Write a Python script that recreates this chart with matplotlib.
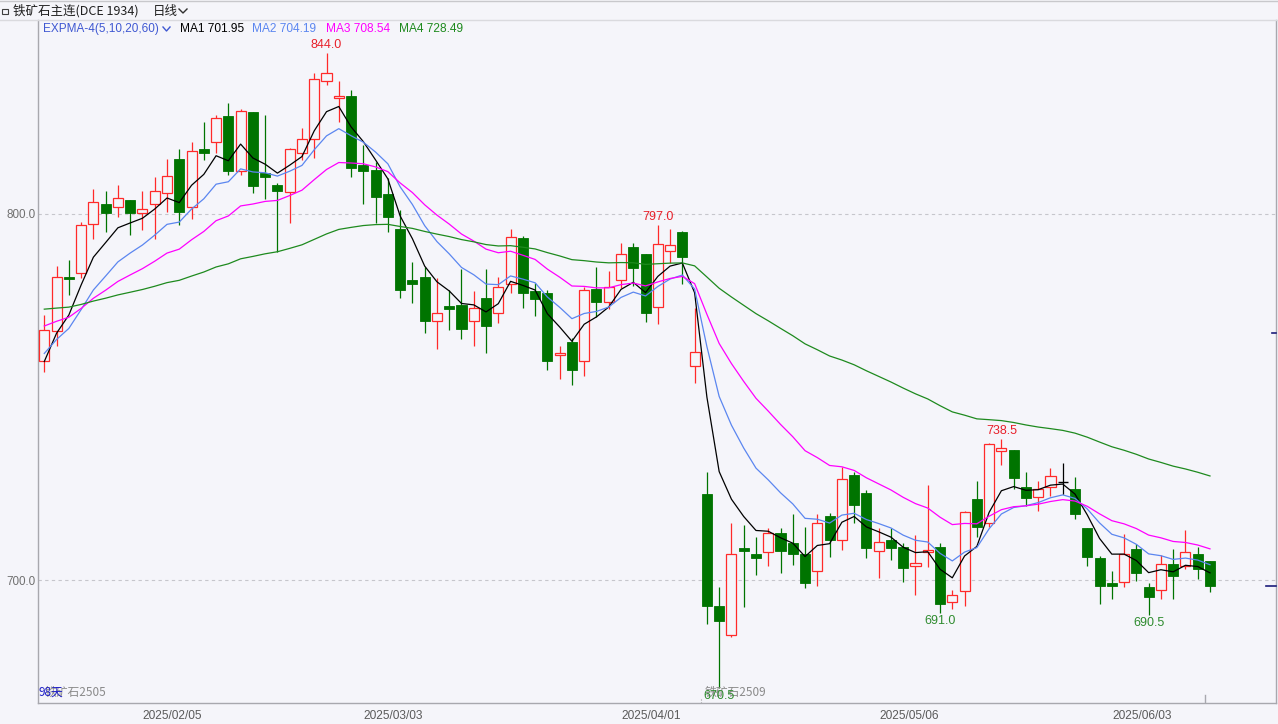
import matplotlib
matplotlib.use("Agg")
import matplotlib.pyplot as plt
from matplotlib.patches import Rectangle
from matplotlib.lines import Line2D
import numpy as np

# ---------------- data ----------------
opens = [759.7, 767.9, 782.9, 783.8, 797.4, 802.7, 801.8, 803.8, 800.2, 802.6,
         805.8, 814.9, 801.8, 817.8, 819.8, 826.9, 811.8, 827.8, 811.1, 807.9,
         806.1, 816.8, 820.4, 836.2, 831.7, 832.3, 813.4, 812.0, 805.5, 795.9,
         782.0, 782.9, 770.8, 774.9, 775.0, 770.8, 777.0, 772.9, 780.8, 793.4,
         779.0, 778.3, 761.4, 765.0, 759.8, 779.4, 775.9, 782.0, 790.9, 789.0,
         774.7, 789.9, 795.0, 758.6, 723.4, 693.0, 685.0, 708.8, 707.1, 707.6,
         712.9, 710.0, 707.1, 702.5, 717.5, 710.9, 728.6, 723.9, 707.9, 710.9,
         708.9, 703.9, 707.6, 708.9, 693.9, 697.0, 722.1, 715.7, 735.3, 735.5,
         725.3, 722.6, 725.3, 726.8, 725.0, 714.1, 706.1, 699.2, 699.4, 708.5,
         698.0, 697.4, 704.4, 703.9, 707.1, 705.2]
highs = [772.4, 785.8, 787.4, 797.9, 806.7, 806.4, 807.9, 803.8, 806.4, 810.0,
         814.9, 817.8, 819.8, 825.0, 827.0, 830.4, 828.7, 827.8, 827.0, 808.4,
         817.9, 823.4, 838.4, 844.0, 836.4, 833.9, 818.9, 814.3, 809.7, 801.1,
         787.0, 785.6, 782.4, 779.1, 784.9, 779.0, 784.9, 782.9, 795.8, 794.0,
         781.2, 779.1, 763.9, 766.0, 780.1, 785.4, 784.5, 792.0, 792.0, 789.0,
         797.0, 795.8, 795.4, 774.2, 729.4, 698.0, 715.7, 715.0, 711.7, 714.1,
         714.1, 718.0, 714.6, 718.0, 718.2, 731.0, 729.6, 724.6, 714.1, 714.1,
         710.0, 712.3, 726.0, 710.0, 697.3, 718.9, 727.1, 737.5, 738.5, 735.5,
         729.6, 727.0, 730.5, 732.1, 728.1, 714.1, 706.6, 702.5, 712.6, 709.8,
         699.1, 706.8, 708.5, 713.7, 709.1, 705.2]
lows = [756.9, 763.8, 777.9, 782.4, 793.2, 795.2, 799.3, 794.3, 795.6, 793.2,
        800.5, 797.0, 798.6, 814.8, 816.6, 810.7, 810.7, 805.8, 804.0, 789.5,
        797.6, 814.8, 815.2, 835.2, 825.2, 810.2, 802.6, 797.6, 795.2, 777.0,
        775.8, 767.4, 763.0, 768.3, 765.8, 763.9, 762.1, 770.3, 778.3, 774.2,
        772.1, 757.4, 754.8, 753.3, 755.7, 771.9, 774.0, 779.7, 780.3, 770.6,
        769.9, 786.5, 780.8, 753.7, 688.0, 670.5, 684.5, 692.5, 701.4, 703.9,
        701.8, 704.1, 697.7, 698.4, 706.4, 708.2, 715.7, 705.9, 700.5, 705.5,
        699.5, 695.9, 703.6, 691.0, 692.0, 693.0, 711.8, 714.6, 731.4, 725.0,
        720.2, 718.9, 723.0, 723.5, 716.7, 703.9, 693.4, 694.8, 698.2, 699.8,
        690.5, 694.8, 694.8, 703.0, 700.3, 696.8]
closes = [768.3, 782.9, 782.3, 797.0, 803.4, 800.2, 804.3, 800.2, 801.4, 806.4,
          810.4, 800.6, 817.3, 816.8, 826.1, 811.8, 828.2, 807.7, 810.2, 806.3,
          817.7, 820.4, 836.8, 838.4, 832.2, 812.7, 811.7, 804.7, 799.3, 779.2,
          780.8, 770.8, 772.9, 774.0, 768.7, 774.4, 769.4, 780.0, 793.8, 778.3,
          776.7, 759.8, 761.9, 757.4, 779.2, 775.9, 780.0, 789.0, 785.2, 772.9,
          791.8, 791.4, 788.3, 762.2, 693.0, 688.9, 707.0, 707.9, 705.9, 712.9,
          708.0, 707.1, 699.1, 715.5, 710.9, 727.5, 720.5, 708.8, 710.5, 708.8,
          703.4, 704.6, 708.2, 693.4, 695.9, 718.5, 714.4, 737.1, 736.2, 727.8,
          722.5, 725.0, 728.4, 726.8, 718.0, 706.4, 698.5, 698.5, 707.1, 701.8,
          695.4, 704.4, 701.1, 707.6, 703.0, 698.5]

ema_periods = [5, 10, 20, 60]
ema_start = [759.7, 761.9, 769.4, 774.0]      # indicator values at first bar (read)
ema_colors = ['#000000', '#5B86F0', '#FF00FF', '#1E8A1E']
legend_texts = ['MA1 701.95', 'MA2 704.19', 'MA3 708.54', 'MA4 728.49']
indicator_name = 'EXPMA-4(5,10,20,60)'

date_labels = ['2025/02/05', '2025/03/03', '2025/04/01', '2025/05/06', '2025/06/03']
date_index = [10, 28, 49, 70, 89]

high_marks = [23, 50, 78]
low_marks = [55, 73, 90]

price_ticks = [700.0, 800.0]
title = '铁矿石主连(DCE 1934)'
period_name = '日线'
contract_old = '铁矿石2505'
contract_new = '铁矿石2509'
switch_index = 54
days_text = '98天'
right_marker_price = 767.5

# ---------------- style ----------------
W, H = 1278, 724
BG = '#F5F5FA'
UP = '#FF2A2A'
DOWN = '#007400'
plt.rcParams['font.family'] = ['Liberation Sans', 'Noto Sans CJK SC', 'DejaVu Sans']
CJK = ['Noto Sans CJK SC', 'Liberation Sans', 'DejaVu Sans']

fig = plt.figure(figsize=(W / 100, H / 100), dpi=100, facecolor=BG)


def fx(x):
    return x / W


def fy(y):
    return 1 - y / H


ax = fig.add_axes([fx(38), fy(703), fx(1276) - fx(38), fy(20) - fy(703)])
ax.set_facecolor(BG)
n = len(closes)
xs = np.arange(n)

ax.set_xlim(-0.513, 100.38)
ax.set_ylim(666.4, 853.0)

# grid lines
for v in price_ticks:
    ax.axhline(v, color='#C6C6CC', lw=0.8, ls=(0, (3, 3)), zorder=0)


# EMA lines (drawn over the candles)
def ema(values, period, start):
    a = 2.0 / (period + 1)
    out = [start]
    for v in values[1:]:
        out.append(a * v + (1 - a) * out[-1])
    return out


for p, s, c in zip(ema_periods, ema_start, ema_colors):
    ax.plot(xs, ema(closes, p, s), color=c, lw=0.9, zorder=7)

# candles
bw = 0.82
for i in range(n):
    o, h, l, c = opens[i], highs[i], lows[i], closes[i]
    if c > o:
        col = UP
    elif c < o:
        col = DOWN
    else:
        col = '#000000'
    top, bot = max(o, c), min(o, c)
    if c > o:
        ax.vlines(i, top, h, color=col, lw=0.9, zorder=4)
        ax.vlines(i, l, bot, color=col, lw=0.9, zorder=4)
        ax.add_patch(Rectangle((i - bw / 2, bot), bw, top - bot, facecolor=BG,
                               edgecolor=col, lw=0.9, zorder=5))
    elif c < o:
        ax.vlines(i, l, h, color=col, lw=0.9, zorder=4)
        ax.add_patch(Rectangle((i - bw / 2, bot), bw, max(top - bot, 0.3), facecolor=col,
                               edgecolor=col, lw=0.6, zorder=5))
    else:
        ax.vlines(i, l, h, color=col, lw=0.9, zorder=8)
        ax.hlines(c, i - bw / 2, i + bw / 2, color=col, lw=1.0, zorder=8)

# high / low marks
for i in high_marks:
    ax.annotate(f'{highs[i]:.1f}', (i, highs[i]), xytext=(0, 2), textcoords='offset pixels',
                ha='center', va='bottom', color='#E8202A', fontsize=9, zorder=9)
for i in low_marks:
    ax.annotate(f'{lows[i]:.1f}', (i, lows[i]), xytext=(0, -2), textcoords='offset pixels',
                ha='center', va='top', color='#2E8B2E', fontsize=9, zorder=9)

# contract texts at the bottom (they overlap in the original as well)
ax.text(0.0, 667.5, contract_old, color='#8A8A8A', fontsize=8.5, family=CJK,
        ha='left', va='bottom', zorder=6)
ax.text(-0.45, 667.5, days_text, color='#2020C8', fontsize=8.5, family=CJK,
        ha='left', va='bottom', zorder=7)
ax.text(switch_index - 0.2, 667.5, contract_new, color='#8A8A8A', fontsize=8.5, family=CJK,
        ha='left', va='bottom', zorder=5)
ax.plot([switch_index - 0.45] * 2, [0.0, 0.008], transform=ax.get_xaxis_transform(),
        color='#A0A0A0', lw=0.8, ls=':', zorder=5)
ax.plot([n - 1.4] * 2, [0.0, 0.011], transform=ax.get_xaxis_transform(),
        color='#A8A8AE', lw=1.0, zorder=5)

# axes
ax.set_xticks([i + 0.45 for i in date_index])
ax.set_xticklabels(date_labels)
ax.tick_params(axis='x', length=0, pad=5, labelsize=8.6, labelcolor='#5A5A5A')
ax.set_yticks(price_ticks)
ax.set_yticklabels([f'{v:.1f}' for v in price_ticks])
ax.tick_params(axis='y', length=0, pad=1.5, labelsize=8.4, labelcolor='#707070')
ax.spines['top'].set_visible(False)
for sp in ['left', 'bottom', 'right']:
    ax.spines[sp].set_color('#A8A8AE')
    ax.spines[sp].set_linewidth(1.0)

# right-edge markers
ax.plot([0.992, 1.0], [closes[-1], closes[-1]], transform=ax.get_yaxis_transform(),
        color='#1C1C7A', lw=1.2, clip_on=False, zorder=8)
ax.plot([0.9965, 1.0], [right_marker_price, right_marker_price],
        transform=ax.get_yaxis_transform(), color='#1C1C7A', lw=1.2, clip_on=False, zorder=8)

# ---------------- header ----------------
fig.add_artist(Line2D([0, 1], [fy(1), fy(1)], color='#C8C8CC', lw=1.0))
fig.add_artist(Line2D([0, 1], [fy(20), fy(20)], color='#DADADE', lw=1.0))
fig.add_artist(Rectangle((fx(2), fy(14)), fx(6), fy(9) - fy(14), fill=False,
                         edgecolor='#404040', lw=0.8))
fig.text(fx(13), fy(11), title, family=CJK, fontsize=9, color='#202020',
         ha='left', va='center')
fig.text(fx(153), fy(11), period_name, family=CJK, fontsize=9, color='#202020',
         ha='left', va='center')
fig.add_artist(Line2D([fx(179), fx(183), fx(187)], [fy(9), fy(13), fy(9)],
                      color='#303030', lw=1.0))

fig.text(fx(43), fy(29), indicator_name, fontsize=8.5, color='#3F58D2',
         ha='left', va='center')
fig.add_artist(Line2D([fx(163), fx(166.5), fx(170)], [fy(27), fy(31), fy(27)],
                      color='#3F58D2', lw=1.0))
legend_x = [180, 252, 326, 399]
for t, c, lx in zip(legend_texts, ema_colors, legend_x):
    fig.text(fx(lx), fy(29), t, fontsize=8.6, color=c, ha='left', va='center')

fig.savefig('out.png', dpi=100, facecolor=BG)
